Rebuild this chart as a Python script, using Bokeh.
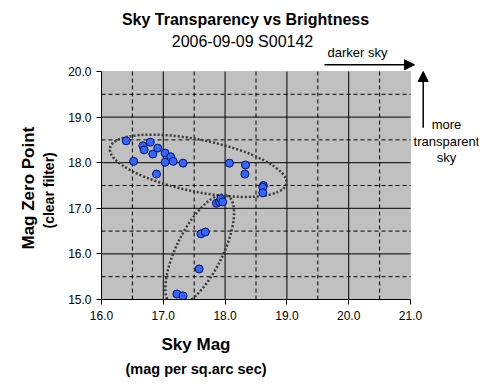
import math
from bokeh.plotting import figure
from bokeh.models import (FixedTicker, PrintfTickFormatter, Label, Arrow, NormalHead,
                          Range1d, ColumnDataSource, BoxAnnotation, Title)
from bokeh.embed import file_html
from bokeh.resources import INLINE

# ---- data ----
sky_mag = [16.40, 16.52, 16.67, 16.69, 16.79, 16.83, 16.91, 16.89, 17.03, 17.03,
           17.12, 17.16, 17.32, 18.07, 18.33, 18.32, 18.62, 18.61, 18.61,
           17.86, 17.91, 17.93, 17.96, 17.61, 17.68, 17.58, 17.22, 17.32]
zero_pt = [18.48, 18.03, 18.37, 18.28, 18.45, 18.19, 18.32, 17.75, 18.21, 18.01,
           18.13, 18.03, 17.99, 17.99, 17.95, 17.75, 17.50, 17.46, 17.34,
           17.11, 17.14, 17.21, 17.14, 16.44, 16.48, 15.67, 15.12, 15.08]

x_ticks = [16, 17, 18, 19, 20, 21]
y_ticks = [15, 16, 17, 18, 19, 20]
x_minor = [16.5, 17.5, 18.5, 19.5, 20.5]
y_minor = [15.5, 16.5, 17.5, 18.5, 19.5]

title_text = "Sky Transparency vs Brightness"
subtitle_text = "2006-09-09 S00142"
x_label = "Sky Mag"
x_sublabel = "(mag per sq.arc sec)"
y_label = "Mag Zero Point"
y_sublabel = "(clear filter)"

X0, X1, Y0, Y1 = x_ticks[0], x_ticks[-1], y_ticks[0], y_ticks[-1]

# ---- layout (page pixels) ----
W, H = 480, 384
PL, PT, PR, PB = 101, 71, 410, 299      # visible plot-area box on the page
FTOP, FRIGHT = 3, W - 2                  # frame extends up/right to hold notes
XS = (PR - PL) / (X1 - X0)
YS = (PB - PT) / (Y1 - Y0)

def dx(px):
    return X0 + (px - PL) / XS

def dy(py):
    return Y1 - (py - PT) / YS

FONT = "Liberation Sans"

p = figure(frame_width=FRIGHT - PL, frame_height=PB - FTOP, output_backend="svg",
           toolbar_location=None,
           x_range=Range1d(X0, dx(FRIGHT)), y_range=Range1d(Y0, dy(FTOP)),
           min_border_left=PL, min_border_top=FTOP,
           min_border_right=W - FRIGHT, min_border_bottom=H - PB)
p.title.visible = False
p.background_fill_color = "white"
p.border_fill_color = "white"
p.outline_line_color = None
p.xgrid.visible = False
p.ygrid.visible = False

# grey plot area
p.add_layout(BoxAnnotation(left=X0, right=X1, bottom=Y0, top=Y1, fill_color="#C0C0C0",
                           fill_alpha=1, line_color="#808080", line_width=1,
                           level="underlay"))

# grid lines (interior only)
p.segment(x0=x_minor, x1=x_minor, y0=Y0, y1=Y1, line_color="black",
          line_width=1, line_dash="4 3")
p.segment(x0=X0, x1=X1, y0=y_minor, y1=y_minor, line_color="black",
          line_width=1, line_dash="4 3")
p.segment(x0=x_ticks[1:-1], x1=x_ticks[1:-1], y0=Y0, y1=Y1, line_color="black",
          line_width=1)
p.segment(x0=X0, x1=X1, y0=y_ticks[1:-1], y1=y_ticks[1:-1], line_color="black",
          line_width=1)

def style_axis(ax, ticks, bounds):
    ax.ticker = FixedTicker(ticks=ticks)
    ax.formatter = PrintfTickFormatter(format="%.1f")
    ax.bounds = bounds
    ax.axis_line_color = "black"
    ax.major_tick_line_color = "black"
    ax.major_tick_out = 5
    ax.major_tick_in = 0
    ax.minor_tick_line_color = None
    ax.major_label_text_font = FONT
    ax.major_label_text_font_size = "12px"
    ax.major_label_text_color = "black"

style_axis(p.xaxis[0], x_ticks, (X0, X1))
style_axis(p.yaxis[0], y_ticks, (Y0, Y1))
p.xaxis.major_label_standoff = 6
p.yaxis.major_label_standoff = 5

def side_title(text, side, size, offset, standoff):
    p.add_layout(Title(text=text, align="left", offset=offset, standoff=standoff,
                       text_font=FONT, text_font_size=size, text_font_style="bold",
                       text_color="black"), side)

# axis titles (placed in the side panels, outward in order of addition)
side_title(x_label, "below", "17px", 60, 21)
side_title(x_sublabel, "below", "14.5px", 24, -24)
side_title(y_sublabel, "left", "14px", 71, 17)
side_title(y_label, "left", "17px", 50, -14)

# ellipses (screen-size shapes around groups)
ell = ColumnDataSource(dict(x=[dx(197.7), dx(199.2)], y=[dy(165.3), dy(250.0)],
                            w=[180, 123], h=[52, 46], a=[-0.2007, 1.107]))
p.ellipse(x="x", y="y", width="w", height="h", angle="a", source=ell,
          width_units="screen", height_units="screen",
          fill_color=None, line_color="#383838", line_width=2.5, line_dash="2 2")

p.scatter(sky_mag, zero_pt, size=8, fill_color="#3366FF", line_color="#001060",
          line_width=1)

def lab(text, px, py, size, bold=False):
    p.add_layout(Label(x=dx(px), y=dy(py), text=text, text_font=FONT,
                       text_font_size=size, text_font_style="bold" if bold else "normal",
                       text_align="center", text_baseline="middle",
                       text_color="black"))

lab(title_text, 245, 19, "16px", bold=True)
lab(subtitle_text, 242, 41, "16px")
lab("darker sky", 357, 52, "13px")
lab("more", 446, 124, "13px")
lab("transparent", 446, 141, "13px")
lab("sky", 446, 157, "13px")

p.add_layout(Arrow(x_start=dx(324), y_start=dy(64.3), x_end=dx(414), y_end=dy(64.3),
                   line_color="black", line_width=1.5,
                   end=NormalHead(size=10, fill_color="black", line_color="black")))
p.add_layout(Arrow(x_start=dx(422.7), y_start=dy(127.3), x_end=dx(422.7), y_end=dy(71),
                   line_color="black", line_width=1.5,
                   end=NormalHead(size=10, fill_color="black", line_color="black")))

open("out.html", "w").write(file_html(p, INLINE))
